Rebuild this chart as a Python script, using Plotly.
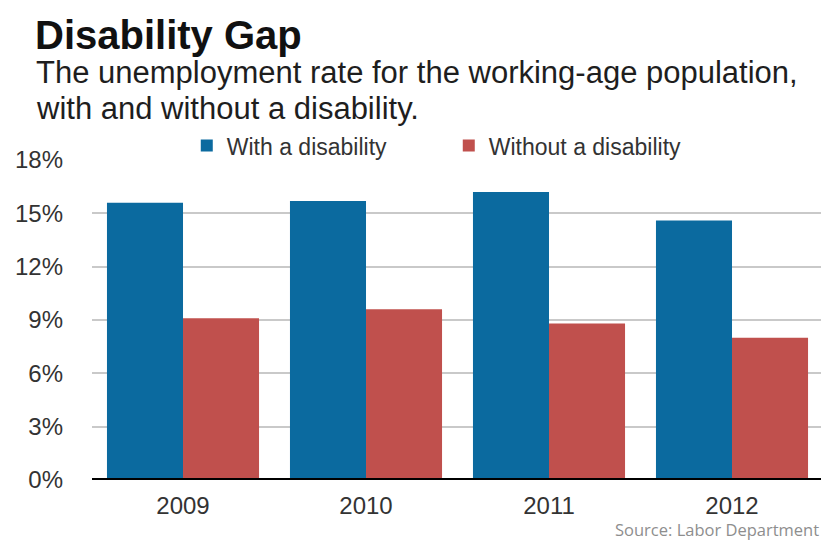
import plotly.graph_objects as go

years = ["2009", "2010", "2011", "2012"]
with_disability = [15.6, 15.7, 16.2, 14.6]
without_disability = [9.1, 9.6, 8.8, 8.0]
y_ticks = [0, 3, 6, 9, 12, 15, 18]
y_tick_labels = ["0%", "3%", "6%", "9%", "12%", "15%", "18%"]

BLUE = "#0b6a9f"
RED = "#c0504d"
FONT = "Liberation Sans, Arial, sans-serif"

fig = go.Figure()
fig.add_trace(go.Bar(x=years, y=with_disability, name="With a disability",
                     marker=dict(color=BLUE, line=dict(width=0))))
fig.add_trace(go.Bar(x=years, y=without_disability, name="Without a disability",
                     marker=dict(color=RED, line=dict(width=0))))

fig.update_layout(
    width=821, height=542,
    margin=dict(l=92, r=0, t=160, b=62),
    paper_bgcolor="white", plot_bgcolor="white",
    barmode="group", bargap=0.169, bargroupgap=0,
    font=dict(family=FONT, color="#2a2a2a"),
    showlegend=True,
    legend=dict(orientation="h", x=0.13, xanchor="left", y=1.045, yanchor="middle",
                font=dict(size=23, color="#333333"), bgcolor="rgba(0,0,0,0)",
                entrywidth=217, entrywidthmode="pixels", itemwidth=30),
    xaxis=dict(type="category", range=[-0.4973, 3.4863], showgrid=False,
               tickfont=dict(size=24, color="#333333"), ticks="", ticklabelstandoff=9,
               showline=False, zeroline=False, fixedrange=True),
    yaxis=dict(range=[0, 18], tickvals=y_ticks, ticktext=y_tick_labels,
               showgrid=True, gridcolor="#c9c9c9", gridwidth=1.5,
               tickfont=dict(size=24, color="#333333"), ticks="", ticklabelstandoff=28,
               zeroline=False, showline=False, fixedrange=True),
    shapes=[dict(type="line", xref="paper", yref="y", x0=0, x1=1, y0=0, y1=0,
                 line=dict(color="black", width=4), layer="above")],
    annotations=[
        dict(text="<b>Disability Gap</b>", xref="paper", yref="paper", x=-0.081, y=1.39,
             xanchor="left", yanchor="middle", showarrow=False,
             font=dict(size=40, color="#111111", family=FONT)),
        dict(text="The unemployment rate for the working-age population,", xref="paper", yref="paper",
             x=-0.0796, y=1.272, xanchor="left", yanchor="middle", showarrow=False,
             font=dict(size=31, color="#1e1e1e", family=FONT)),
        dict(text="with and without a disability.", xref="paper", yref="paper",
             x=-0.0796, y=1.16, xanchor="left", yanchor="middle", showarrow=False,
             font=dict(size=31, color="#1e1e1e", family=FONT)),
        dict(text="Source: Labor Department", xref="paper", yref="paper",
             x=1.0, y=-0.156, xanchor="right", yanchor="middle", showarrow=False,
             font=dict(size=16.5, color="#8e8e8e", family="Open Sans, sans-serif")),
    ],
)

fig.write_html("out.html", config={"displayModeBar": False},
               post_script="document.body.style.margin='0';document.body.style.padding='0';document.body.style.overflow='hidden';")
